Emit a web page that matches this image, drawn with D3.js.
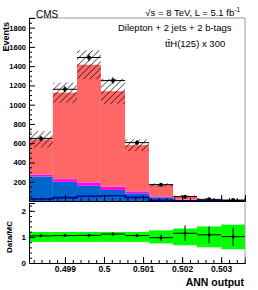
<!DOCTYPE html>
<html>
<head>
<meta charset="utf-8">
<script src="https://cdn.jsdelivr.net/npm/d3@7"></script>
<style>
  body { margin: 0; background: #fff; }
  text { font-family: "Liberation Sans", Arial, sans-serif; }
</style>
</head>
<body>
<svg id="chart" width="258" height="290"></svg>
<script>
// bin edges of the ANN output (9 bins)
const binEdges = [0.49808, 0.49869, 0.49931, 0.49992, 0.50054, 0.50115, 0.50177, 0.50238, 0.50300, 0.50361];

// stacked backgrounds, bottom to top
const blueBkg    = [255, 199, 158, 114, 80, 38, 10, 3, 2];
const magentaBkg = [20, 28, 35, 34, 20, 10, 3, 1, 0];
const redBkg     = [365, 898, 1222, 992, 480, 117, 37, 8, 6];
const mcErr      = [85, 105, 150, 130, 60, 18, 8, 4, 3];

// ttH(125) x 300 overlay
const tthSignal = [20, 35, 50, 55, 38, 8, 3, 1, 1];

// data
const dataVals = [650, 1160, 1490, 1250, 606, 170, 45, 17, 10];
const dataErr  = [26, 34, 39, 35, 25, 13, 7, 4, 3];

// ratio pad
const ratioVals = [1.04, 1.05, 1.06, 1.11, 1.05, 0.97, 1.14, 1.08, 1.01];
const ratioErr  = [0.04, 0.04, 0.04, 0.05, 0.06, 0.12, 0.3, 0.32, 0.35];
const bandErr   = [0.19, 0.19, 0.19, 0.19, 0.19, 0.25, 0.32, 0.4, 0.47];

const xTicks = [0.499, 0.5, 0.501, 0.502, 0.503];
const yTicksTop = [200, 400, 600, 800, 1000, 1200, 1400, 1600, 1800];
const yTicksRatio = [0, 1, 2];

const colors = { blue: '#0066cc', magenta: '#ff00ff', red: '#ff6666', navy: '#000099', band: '#00ff00' };

const svg = d3.select('#chart');
const frame = { left: 29, right: 245, top: 18, bottom: 201 };
const rframe = { top: 203, bottom: 263 };

const x = d3.scaleLinear().domain([binEdges[0], binEdges[binEdges.length - 1]]).range([frame.left, frame.right]);
const y = d3.scaleLinear().domain([0, 1900]).range([frame.bottom, frame.top]);
const yr = d3.scaleLinear().domain([0, 2.3]).range([rframe.bottom, rframe.top]);

// hatch pattern for MC uncertainty
const defs = svg.append('defs');
defs.append('pattern')
  .attr('id', 'hatch')
  .attr('patternUnits', 'userSpaceOnUse')
  .attr('width', 6.5).attr('height', 6.5)
  .append('path')
    .attr('d', 'M-1,1 L1,-1 M0,6.5 L6.5,0 M5.5,7.5 L7.5,5.5')
    .attr('stroke', '#000').attr('stroke-width', 0.8);

const bins = d3.range(dataVals.length).map(i => {
  const b0 = blueBkg[i], b1 = b0 + magentaBkg[i], b2 = b1 + redBkg[i];
  return { i, x0: binEdges[i], x1: binEdges[i + 1], layers: [[0, b0, colors.blue], [b0, b1, colors.magenta], [b1, b2, colors.red]], total: b2 };
});

// stacked histogram
const upper = svg.append('g');
bins.forEach(b => {
  b.layers.forEach(([lo, hi, c]) => {
    upper.append('rect')
      .attr('x', x(b.x0)).attr('width', x(b.x1) - x(b.x0))
      .attr('y', y(hi)).attr('height', y(lo) - y(hi))
      .attr('fill', c);
  });
});

// MC uncertainty hatch
upper.selectAll('rect.unc')
  .data(bins)
  .enter().append('rect')
  .attr('class', 'unc')
  .attr('x', d => x(d.x0)).attr('width', d => x(d.x1) - x(d.x0))
  .attr('y', d => y(d.total + mcErr[d.i]))
  .attr('height', d => y(d.total - mcErr[d.i]) - y(d.total + mcErr[d.i]))
  .attr('fill', 'url(#hatch)');

// ttH overlay as step line
const stepPts = [];
tthSignal.forEach((v, i) => { stepPts.push([x(binEdges[i]), y(v)], [x(binEdges[i + 1]), y(v)]); });
upper.append('path')
  .attr('d', d3.line()(stepPts))
  .attr('fill', 'none').attr('stroke', colors.navy).attr('stroke-width', 1.6);

// data points
const pts = upper.selectAll('g.pt').data(bins).enter().append('g').attr('class', 'pt');
pts.append('line')
  .attr('x1', d => x(d.x0)).attr('x2', d => x(d.x1))
  .attr('y1', d => y(dataVals[d.i])).attr('y2', d => y(dataVals[d.i]))
  .attr('stroke', '#000').attr('stroke-width', 1);
pts.append('line')
  .attr('x1', d => x((d.x0 + d.x1) / 2)).attr('x2', d => x((d.x0 + d.x1) / 2))
  .attr('y1', d => y(dataVals[d.i] - dataErr[d.i])).attr('y2', d => y(dataVals[d.i] + dataErr[d.i]))
  .attr('stroke', '#000').attr('stroke-width', 1);
pts.append('circle')
  .attr('cx', d => x((d.x0 + d.x1) / 2)).attr('cy', d => y(dataVals[d.i]))
  .attr('r', 2).attr('fill', '#000');

// frame of the upper pad
svg.append('path')
  .attr('d', `M${frame.left},${frame.top} H${frame.right} V${frame.bottom}`)
  .attr('fill', 'none').attr('stroke', '#999').attr('stroke-width', 1);

// axes of the upper pad
const minorY = d3.range(50, 1900, 50).filter(v => v % 200 !== 0);
svg.append('g').attr('transform', `translate(${frame.left},0)`)
  .call(d3.axisLeft(y).tickValues(minorY).tickSize(-3).tickFormat(''));
const gy = svg.append('g').attr('transform', `translate(${frame.left},0)`)
  .call(d3.axisLeft(y).tickValues(yTicksTop).tickSize(-6).tickPadding(3).tickFormat(d3.format('d')));
gy.selectAll('text').attr('font-size', 7.5).attr('font-weight', 'bold').attr('font-family', '"Liberation Sans", Arial, sans-serif');

const minorX = d3.range(0.4982, 0.5036, 0.0002);
[frame.bottom, rframe.bottom].forEach((yy, k) => {
  svg.append('g').attr('transform', `translate(0,${yy})`)
    .call(d3.axisBottom(x).tickValues(minorX).tickSize(-3).tickFormat(''));
  const gx = svg.append('g').attr('transform', `translate(0,${yy})`)
    .call(d3.axisBottom(x).tickValues(xTicks).tickSize(-6).tickPadding(3)
      .tickFormat(k === 0 ? '' : d => d3.format('')(+d.toFixed(3))));
  gx.selectAll('text').attr('font-size', 8.5).attr('font-weight', 'bold').attr('dy', '0.75em')
    .attr('font-family', '"Liberation Sans", Arial, sans-serif');
});

// ratio pad
const rp = svg.append('g');
rp.selectAll('rect.band').data(bins).enter().append('rect')
  .attr('x', d => x(d.x0)).attr('width', d => x(d.x1) - x(d.x0))
  .attr('y', d => yr(1 + bandErr[d.i]))
  .attr('height', d => yr(1 - bandErr[d.i]) - yr(1 + bandErr[d.i]))
  .attr('fill', colors.band);
const rpts = rp.selectAll('g.rpt').data(bins).enter().append('g');
rpts.append('line')
  .attr('x1', d => x(d.x0)).attr('x2', d => x(d.x1))
  .attr('y1', d => yr(ratioVals[d.i])).attr('y2', d => yr(ratioVals[d.i]))
  .attr('stroke', '#000').attr('stroke-width', 1);
rpts.append('line')
  .attr('x1', d => x((d.x0 + d.x1) / 2)).attr('x2', d => x((d.x0 + d.x1) / 2))
  .attr('y1', d => yr(ratioVals[d.i] - ratioErr[d.i])).attr('y2', d => yr(ratioVals[d.i] + ratioErr[d.i]))
  .attr('stroke', '#000').attr('stroke-width', 1);
rpts.append('circle')
  .attr('cx', d => x((d.x0 + d.x1) / 2)).attr('cy', d => yr(ratioVals[d.i]))
  .attr('r', 1.5).attr('fill', '#000');

svg.append('path')
  .attr('d', `M${frame.right},${rframe.top} V${rframe.bottom}`)
  .attr('fill', 'none').attr('stroke', '#999').attr('stroke-width', 1);

svg.append('g').attr('transform', `translate(${frame.left},0)`)
  .call(d3.axisLeft(yr).tickValues(d3.range(0.2, 2.3, 0.2)).tickSize(-3).tickFormat(''));
const gyr = svg.append('g').attr('transform', `translate(${frame.left},0)`)
  .call(d3.axisLeft(yr).tickValues(yTicksRatio).tickSize(-6).tickPadding(3).tickFormat(d3.format('d')));
gyr.selectAll('text').attr('font-size', 8).attr('font-weight', 'bold');
svg.selectAll('.domain').attr('stroke', '#000');

// texts
svg.append('text').attr('x', 36).attr('y', 18).attr('font-size', 10).text('CMS');
const lumi = svg.append('text').attr('x', 240).attr('y', 16).attr('font-size', 9.5).attr('text-anchor', 'end');
lumi.append('tspan').text('√s = 8 TeV, L = 5.1 fb');
lumi.append('tspan').attr('font-size', 6.5).attr('dy', -4).text('-1');

svg.append('text').attr('x', 118).attr('y', 31).attr('font-size', 9.5).text('Dilepton  + 2 jets + 2 b-tags');
svg.append('text').attr('x', 165).attr('y', 46.5).attr('font-size', 9.5).text('tt̄H(125) x 300');

svg.append('text').attr('transform', 'translate(9,22) rotate(-90)')
  .attr('text-anchor', 'end').attr('font-size', 9).attr('font-weight', 'bold').text('Events');
svg.append('text').attr('transform', 'translate(12,237) rotate(-90)')
  .attr('text-anchor', 'middle').attr('font-size', 8).attr('font-weight', 'bold').text('Data/MC');
svg.append('text').attr('x', 244).attr('y', 286)
  .attr('text-anchor', 'end').attr('font-size', 10.5).attr('font-weight', 'bold').text('ANN output');
</script>
</body>
</html>
